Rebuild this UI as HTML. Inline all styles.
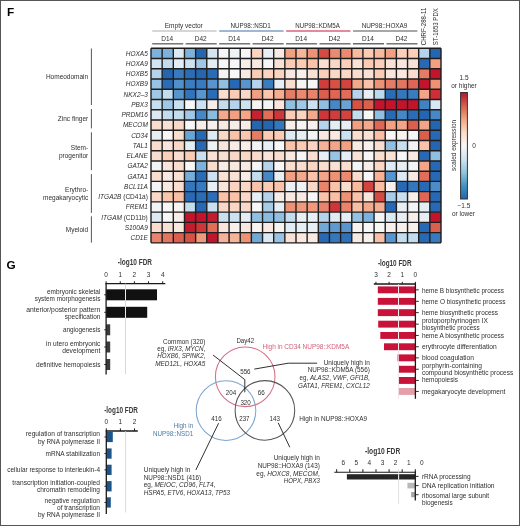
<!DOCTYPE html><html><head><meta charset="utf-8"><style>html,body{margin:0;padding:0;background:#fff;}svg{display:block;will-change:transform;}text{font-family:"Liberation Sans",sans-serif;}</style></head><body>
<svg width="520" height="526" viewBox="0 0 520 526">
<rect x="0" y="0" width="520" height="526" fill="#fff"/>
<rect x="0.5" y="0.5" width="519" height="525" fill="none" stroke="#555" stroke-width="1"/>
<text x="7.00" y="16.30" font-size="11.8" font-weight="bold" fill="#000">F</text>
<text x="6.40" y="269.30" font-size="11.8" font-weight="bold" fill="#000">G</text>
<rect x="151.00" y="48.30" width="11.20" height="10.29" fill="#7cb2dc"/>
<rect x="162.15" y="48.30" width="11.20" height="10.29" fill="#7cb2dc"/>
<rect x="173.31" y="48.30" width="11.20" height="10.29" fill="#ddeaf3"/>
<rect x="184.46" y="48.30" width="11.20" height="10.29" fill="#7cb2dc"/>
<rect x="195.62" y="48.30" width="11.20" height="10.29" fill="#2466b2"/>
<rect x="206.77" y="48.30" width="11.20" height="10.29" fill="#d3e5f1"/>
<rect x="217.92" y="48.30" width="11.20" height="10.29" fill="#f7f7f7"/>
<rect x="229.08" y="48.30" width="11.20" height="10.29" fill="#edf2f5"/>
<rect x="240.23" y="48.30" width="11.20" height="10.29" fill="#f7f7f7"/>
<rect x="251.38" y="48.30" width="11.20" height="10.29" fill="#fad4c1"/>
<rect x="262.54" y="48.30" width="11.20" height="10.29" fill="#e7eff5"/>
<rect x="273.69" y="48.30" width="11.20" height="10.29" fill="#f8eae3"/>
<rect x="284.85" y="48.30" width="11.20" height="10.29" fill="#f3a082"/>
<rect x="296.00" y="48.30" width="11.20" height="10.29" fill="#f7b69a"/>
<rect x="307.15" y="48.30" width="11.20" height="10.29" fill="#ee9276"/>
<rect x="318.31" y="48.30" width="11.20" height="10.29" fill="#d54a42"/>
<rect x="329.46" y="48.30" width="11.20" height="10.29" fill="#ec8a71"/>
<rect x="340.62" y="48.30" width="11.20" height="10.29" fill="#ec8a71"/>
<rect x="351.77" y="48.30" width="11.20" height="10.29" fill="#f8ba9f"/>
<rect x="362.92" y="48.30" width="11.20" height="10.29" fill="#fbcbb3"/>
<rect x="374.08" y="48.30" width="11.20" height="10.29" fill="#f8ba9f"/>
<rect x="385.23" y="48.30" width="11.20" height="10.29" fill="#f3a082"/>
<rect x="396.38" y="48.30" width="11.20" height="10.29" fill="#fbcfba"/>
<rect x="407.54" y="48.30" width="11.20" height="10.29" fill="#fbcfba"/>
<rect x="418.69" y="48.30" width="11.20" height="10.29" fill="#b5d4eb"/>
<rect x="429.85" y="48.30" width="11.20" height="10.29" fill="#2466b2"/>
<rect x="151.00" y="58.54" width="11.20" height="10.29" fill="#d3e5f1"/>
<rect x="162.15" y="58.54" width="11.20" height="10.29" fill="#c3ddef"/>
<rect x="173.31" y="58.54" width="11.20" height="10.29" fill="#e2edf4"/>
<rect x="184.46" y="58.54" width="11.20" height="10.29" fill="#cde2f1"/>
<rect x="195.62" y="58.54" width="11.20" height="10.29" fill="#a0c8e6"/>
<rect x="206.77" y="58.54" width="11.20" height="10.29" fill="#e2edf4"/>
<rect x="217.92" y="58.54" width="11.20" height="10.29" fill="#f7f7f7"/>
<rect x="229.08" y="58.54" width="11.20" height="10.29" fill="#f7f7f7"/>
<rect x="240.23" y="58.54" width="11.20" height="10.29" fill="#f8eee9"/>
<rect x="251.38" y="58.54" width="11.20" height="10.29" fill="#f8eae3"/>
<rect x="262.54" y="58.54" width="11.20" height="10.29" fill="#f7f7f7"/>
<rect x="273.69" y="58.54" width="11.20" height="10.29" fill="#f9e1d5"/>
<rect x="284.85" y="58.54" width="11.20" height="10.29" fill="#fbcbb3"/>
<rect x="296.00" y="58.54" width="11.20" height="10.29" fill="#fbcbb3"/>
<rect x="307.15" y="58.54" width="11.20" height="10.29" fill="#f9c2a9"/>
<rect x="318.31" y="58.54" width="11.20" height="10.29" fill="#f9ddce"/>
<rect x="329.46" y="58.54" width="11.20" height="10.29" fill="#fad8c7"/>
<rect x="340.62" y="58.54" width="11.20" height="10.29" fill="#fbcfba"/>
<rect x="351.77" y="58.54" width="11.20" height="10.29" fill="#f9e1d5"/>
<rect x="362.92" y="58.54" width="11.20" height="10.29" fill="#fbcbb3"/>
<rect x="374.08" y="58.54" width="11.20" height="10.29" fill="#fbcfba"/>
<rect x="385.23" y="58.54" width="11.20" height="10.29" fill="#f9e1d5"/>
<rect x="396.38" y="58.54" width="11.20" height="10.29" fill="#f9e5dc"/>
<rect x="407.54" y="58.54" width="11.20" height="10.29" fill="#f9e1d5"/>
<rect x="418.69" y="58.54" width="11.20" height="10.29" fill="#2769b4"/>
<rect x="429.85" y="58.54" width="11.20" height="10.29" fill="#f3a082"/>
<rect x="151.00" y="68.78" width="11.20" height="10.29" fill="#b5d4eb"/>
<rect x="162.15" y="68.78" width="11.20" height="10.29" fill="#2466b2"/>
<rect x="173.31" y="68.78" width="11.20" height="10.29" fill="#387abf"/>
<rect x="184.46" y="68.78" width="11.20" height="10.29" fill="#2a6cb6"/>
<rect x="195.62" y="68.78" width="11.20" height="10.29" fill="#2466b2"/>
<rect x="206.77" y="68.78" width="11.20" height="10.29" fill="#2a6cb6"/>
<rect x="217.92" y="68.78" width="11.20" height="10.29" fill="#f7f3f0"/>
<rect x="229.08" y="68.78" width="11.20" height="10.29" fill="#f7f7f7"/>
<rect x="240.23" y="68.78" width="11.20" height="10.29" fill="#f8eae3"/>
<rect x="251.38" y="68.78" width="11.20" height="10.29" fill="#fbcbb3"/>
<rect x="262.54" y="68.78" width="11.20" height="10.29" fill="#fad4c1"/>
<rect x="273.69" y="68.78" width="11.20" height="10.29" fill="#fad4c1"/>
<rect x="284.85" y="68.78" width="11.20" height="10.29" fill="#f8e8df"/>
<rect x="296.00" y="68.78" width="11.20" height="10.29" fill="#f8f0ed"/>
<rect x="307.15" y="68.78" width="11.20" height="10.29" fill="#f9e1d5"/>
<rect x="318.31" y="68.78" width="11.20" height="10.29" fill="#fbcfba"/>
<rect x="329.46" y="68.78" width="11.20" height="10.29" fill="#fad8c7"/>
<rect x="340.62" y="68.78" width="11.20" height="10.29" fill="#fad8c7"/>
<rect x="351.77" y="68.78" width="11.20" height="10.29" fill="#f9ddce"/>
<rect x="362.92" y="68.78" width="11.20" height="10.29" fill="#f9e1d5"/>
<rect x="374.08" y="68.78" width="11.20" height="10.29" fill="#fbcbb3"/>
<rect x="385.23" y="68.78" width="11.20" height="10.29" fill="#f9e5dc"/>
<rect x="396.38" y="68.78" width="11.20" height="10.29" fill="#f8e8df"/>
<rect x="407.54" y="68.78" width="11.20" height="10.29" fill="#f9ddce"/>
<rect x="418.69" y="68.78" width="11.20" height="10.29" fill="#e67c65"/>
<rect x="429.85" y="68.78" width="11.20" height="10.29" fill="#c2142c"/>
<rect x="151.00" y="79.02" width="11.20" height="10.29" fill="#98c3e4"/>
<rect x="162.15" y="79.02" width="11.20" height="10.29" fill="#2a6cb6"/>
<rect x="173.31" y="79.02" width="11.20" height="10.29" fill="#5290cb"/>
<rect x="184.46" y="79.02" width="11.20" height="10.29" fill="#3a7cc0"/>
<rect x="195.62" y="79.02" width="11.20" height="10.29" fill="#387abf"/>
<rect x="206.77" y="79.02" width="11.20" height="10.29" fill="#5895ce"/>
<rect x="217.92" y="79.02" width="11.20" height="10.29" fill="#91bfe2"/>
<rect x="229.08" y="79.02" width="11.20" height="10.29" fill="#2769b4"/>
<rect x="240.23" y="79.02" width="11.20" height="10.29" fill="#5895ce"/>
<rect x="251.38" y="79.02" width="11.20" height="10.29" fill="#b5d4eb"/>
<rect x="262.54" y="79.02" width="11.20" height="10.29" fill="#3a7cc0"/>
<rect x="273.69" y="79.02" width="11.20" height="10.29" fill="#e7eff5"/>
<rect x="284.85" y="79.02" width="11.20" height="10.29" fill="#f9ddce"/>
<rect x="296.00" y="79.02" width="11.20" height="10.29" fill="#f7f5f4"/>
<rect x="307.15" y="79.02" width="11.20" height="10.29" fill="#f7f7f7"/>
<rect x="318.31" y="79.02" width="11.20" height="10.29" fill="#d03d3d"/>
<rect x="329.46" y="79.02" width="11.20" height="10.29" fill="#d85145"/>
<rect x="340.62" y="79.02" width="11.20" height="10.29" fill="#d34440"/>
<rect x="351.77" y="79.02" width="11.20" height="10.29" fill="#f5a98c"/>
<rect x="362.92" y="79.02" width="11.20" height="10.29" fill="#f9c2a9"/>
<rect x="374.08" y="79.02" width="11.20" height="10.29" fill="#ee9276"/>
<rect x="385.23" y="79.02" width="11.20" height="10.29" fill="#e67c65"/>
<rect x="396.38" y="79.02" width="11.20" height="10.29" fill="#e4755f"/>
<rect x="407.54" y="79.02" width="11.20" height="10.29" fill="#df6654"/>
<rect x="418.69" y="79.02" width="11.20" height="10.29" fill="#c2142c"/>
<rect x="429.85" y="79.02" width="11.20" height="10.29" fill="#ee9276"/>
<rect x="151.00" y="89.26" width="11.20" height="10.29" fill="#a0c8e6"/>
<rect x="162.15" y="89.26" width="11.20" height="10.29" fill="#c3ddef"/>
<rect x="173.31" y="89.26" width="11.20" height="10.29" fill="#5895ce"/>
<rect x="184.46" y="89.26" width="11.20" height="10.29" fill="#3274bb"/>
<rect x="195.62" y="89.26" width="11.20" height="10.29" fill="#5895ce"/>
<rect x="206.77" y="89.26" width="11.20" height="10.29" fill="#2a6cb6"/>
<rect x="217.92" y="89.26" width="11.20" height="10.29" fill="#f9ddce"/>
<rect x="229.08" y="89.26" width="11.20" height="10.29" fill="#fbcbb3"/>
<rect x="240.23" y="89.26" width="11.20" height="10.29" fill="#fad8c7"/>
<rect x="251.38" y="89.26" width="11.20" height="10.29" fill="#f3a082"/>
<rect x="262.54" y="89.26" width="11.20" height="10.29" fill="#fac7ae"/>
<rect x="273.69" y="89.26" width="11.20" height="10.29" fill="#f5ad91"/>
<rect x="284.85" y="89.26" width="11.20" height="10.29" fill="#e67c65"/>
<rect x="296.00" y="89.26" width="11.20" height="10.29" fill="#ec8a71"/>
<rect x="307.15" y="89.26" width="11.20" height="10.29" fill="#e9836b"/>
<rect x="318.31" y="89.26" width="11.20" height="10.29" fill="#dc5f4e"/>
<rect x="329.46" y="89.26" width="11.20" height="10.29" fill="#df6654"/>
<rect x="340.62" y="89.26" width="11.20" height="10.29" fill="#e26e59"/>
<rect x="351.77" y="89.26" width="11.20" height="10.29" fill="#b5d4eb"/>
<rect x="362.92" y="89.26" width="11.20" height="10.29" fill="#e7eff5"/>
<rect x="374.08" y="89.26" width="11.20" height="10.29" fill="#bcd9ed"/>
<rect x="385.23" y="89.26" width="11.20" height="10.29" fill="#2a6cb6"/>
<rect x="396.38" y="89.26" width="11.20" height="10.29" fill="#3577bd"/>
<rect x="407.54" y="89.26" width="11.20" height="10.29" fill="#3a7cc0"/>
<rect x="418.69" y="89.26" width="11.20" height="10.29" fill="#f4a487"/>
<rect x="429.85" y="89.26" width="11.20" height="10.29" fill="#cc2f37"/>
<rect x="151.00" y="99.50" width="11.20" height="10.29" fill="#c8e0f0"/>
<rect x="162.15" y="99.50" width="11.20" height="10.29" fill="#a0c8e6"/>
<rect x="173.31" y="99.50" width="11.20" height="10.29" fill="#c8e0f0"/>
<rect x="184.46" y="99.50" width="11.20" height="10.29" fill="#f7f7f7"/>
<rect x="195.62" y="99.50" width="11.20" height="10.29" fill="#cde2f1"/>
<rect x="206.77" y="99.50" width="11.20" height="10.29" fill="#f8eee9"/>
<rect x="217.92" y="99.50" width="11.20" height="10.29" fill="#c3ddef"/>
<rect x="229.08" y="99.50" width="11.20" height="10.29" fill="#b5d4eb"/>
<rect x="240.23" y="99.50" width="11.20" height="10.29" fill="#cde2f1"/>
<rect x="251.38" y="99.50" width="11.20" height="10.29" fill="#f7f3f0"/>
<rect x="262.54" y="99.50" width="11.20" height="10.29" fill="#f2f4f6"/>
<rect x="273.69" y="99.50" width="11.20" height="10.29" fill="#f9e5dc"/>
<rect x="284.85" y="99.50" width="11.20" height="10.29" fill="#91bfe2"/>
<rect x="296.00" y="99.50" width="11.20" height="10.29" fill="#a0c8e6"/>
<rect x="307.15" y="99.50" width="11.20" height="10.29" fill="#cde2f1"/>
<rect x="318.31" y="99.50" width="11.20" height="10.29" fill="#91bfe2"/>
<rect x="329.46" y="99.50" width="11.20" height="10.29" fill="#4687c6"/>
<rect x="340.62" y="99.50" width="11.20" height="10.29" fill="#6aa4d5"/>
<rect x="351.77" y="99.50" width="11.20" height="10.29" fill="#d85145"/>
<rect x="362.92" y="99.50" width="11.20" height="10.29" fill="#dc5f4e"/>
<rect x="374.08" y="99.50" width="11.20" height="10.29" fill="#c2142c"/>
<rect x="385.23" y="99.50" width="11.20" height="10.29" fill="#c2142c"/>
<rect x="396.38" y="99.50" width="11.20" height="10.29" fill="#c2142c"/>
<rect x="407.54" y="99.50" width="11.20" height="10.29" fill="#c2142c"/>
<rect x="418.69" y="99.50" width="11.20" height="10.29" fill="#4082c4"/>
<rect x="429.85" y="99.50" width="11.20" height="10.29" fill="#d8e7f2"/>
<rect x="151.00" y="109.74" width="11.20" height="10.29" fill="#ddeaf3"/>
<rect x="162.15" y="109.74" width="11.20" height="10.29" fill="#c3ddef"/>
<rect x="173.31" y="109.74" width="11.20" height="10.29" fill="#c3ddef"/>
<rect x="184.46" y="109.74" width="11.20" height="10.29" fill="#a0c8e6"/>
<rect x="195.62" y="109.74" width="11.20" height="10.29" fill="#4687c6"/>
<rect x="206.77" y="109.74" width="11.20" height="10.29" fill="#8abbe0"/>
<rect x="217.92" y="109.74" width="11.20" height="10.29" fill="#f5a98c"/>
<rect x="229.08" y="109.74" width="11.20" height="10.29" fill="#f3a082"/>
<rect x="240.23" y="109.74" width="11.20" height="10.29" fill="#f4a487"/>
<rect x="251.38" y="109.74" width="11.20" height="10.29" fill="#c72232"/>
<rect x="262.54" y="109.74" width="11.20" height="10.29" fill="#e26e59"/>
<rect x="273.69" y="109.74" width="11.20" height="10.29" fill="#ce363a"/>
<rect x="284.85" y="109.74" width="11.20" height="10.29" fill="#fbcbb3"/>
<rect x="296.00" y="109.74" width="11.20" height="10.29" fill="#fad4c1"/>
<rect x="307.15" y="109.74" width="11.20" height="10.29" fill="#f5a98c"/>
<rect x="318.31" y="109.74" width="11.20" height="10.29" fill="#ce363a"/>
<rect x="329.46" y="109.74" width="11.20" height="10.29" fill="#d03d3d"/>
<rect x="340.62" y="109.74" width="11.20" height="10.29" fill="#d34440"/>
<rect x="351.77" y="109.74" width="11.20" height="10.29" fill="#c3ddef"/>
<rect x="362.92" y="109.74" width="11.20" height="10.29" fill="#f7f7f7"/>
<rect x="374.08" y="109.74" width="11.20" height="10.29" fill="#91bfe2"/>
<rect x="385.23" y="109.74" width="11.20" height="10.29" fill="#2769b4"/>
<rect x="396.38" y="109.74" width="11.20" height="10.29" fill="#4687c6"/>
<rect x="407.54" y="109.74" width="11.20" height="10.29" fill="#2a6cb6"/>
<rect x="418.69" y="109.74" width="11.20" height="10.29" fill="#2466b2"/>
<rect x="429.85" y="109.74" width="11.20" height="10.29" fill="#4687c6"/>
<rect x="151.00" y="119.98" width="11.20" height="10.29" fill="#f9ddce"/>
<rect x="162.15" y="119.98" width="11.20" height="10.29" fill="#f9e1d5"/>
<rect x="173.31" y="119.98" width="11.20" height="10.29" fill="#fad8c7"/>
<rect x="184.46" y="119.98" width="11.20" height="10.29" fill="#f7f7f7"/>
<rect x="195.62" y="119.98" width="11.20" height="10.29" fill="#f8eee9"/>
<rect x="206.77" y="119.98" width="11.20" height="10.29" fill="#f8f0ed"/>
<rect x="217.92" y="119.98" width="11.20" height="10.29" fill="#f8eae3"/>
<rect x="229.08" y="119.98" width="11.20" height="10.29" fill="#f8eee9"/>
<rect x="240.23" y="119.98" width="11.20" height="10.29" fill="#f8ece6"/>
<rect x="251.38" y="119.98" width="11.20" height="10.29" fill="#2466b2"/>
<rect x="262.54" y="119.98" width="11.20" height="10.29" fill="#2466b2"/>
<rect x="273.69" y="119.98" width="11.20" height="10.29" fill="#3577bd"/>
<rect x="284.85" y="119.98" width="11.20" height="10.29" fill="#f8eee9"/>
<rect x="296.00" y="119.98" width="11.20" height="10.29" fill="#f7f5f4"/>
<rect x="307.15" y="119.98" width="11.20" height="10.29" fill="#f8f0ed"/>
<rect x="318.31" y="119.98" width="11.20" height="10.29" fill="#b5d4eb"/>
<rect x="329.46" y="119.98" width="11.20" height="10.29" fill="#e2edf4"/>
<rect x="340.62" y="119.98" width="11.20" height="10.29" fill="#e7eff5"/>
<rect x="351.77" y="119.98" width="11.20" height="10.29" fill="#f3a082"/>
<rect x="362.92" y="119.98" width="11.20" height="10.29" fill="#f5a98c"/>
<rect x="374.08" y="119.98" width="11.20" height="10.29" fill="#df6654"/>
<rect x="385.23" y="119.98" width="11.20" height="10.29" fill="#f3a082"/>
<rect x="396.38" y="119.98" width="11.20" height="10.29" fill="#f4a487"/>
<rect x="407.54" y="119.98" width="11.20" height="10.29" fill="#dc5f4e"/>
<rect x="418.69" y="119.98" width="11.20" height="10.29" fill="#f4a487"/>
<rect x="429.85" y="119.98" width="11.20" height="10.29" fill="#2466b2"/>
<rect x="151.00" y="130.22" width="11.20" height="10.29" fill="#e7eff5"/>
<rect x="162.15" y="130.22" width="11.20" height="10.29" fill="#f7f7f7"/>
<rect x="173.31" y="130.22" width="11.20" height="10.29" fill="#f9ddce"/>
<rect x="184.46" y="130.22" width="11.20" height="10.29" fill="#6aa4d5"/>
<rect x="195.62" y="130.22" width="11.20" height="10.29" fill="#2769b4"/>
<rect x="206.77" y="130.22" width="11.20" height="10.29" fill="#ddeaf3"/>
<rect x="217.92" y="130.22" width="11.20" height="10.29" fill="#fad8c7"/>
<rect x="229.08" y="130.22" width="11.20" height="10.29" fill="#f9c2a9"/>
<rect x="240.23" y="130.22" width="11.20" height="10.29" fill="#fac7ae"/>
<rect x="251.38" y="130.22" width="11.20" height="10.29" fill="#e67c65"/>
<rect x="262.54" y="130.22" width="11.20" height="10.29" fill="#fbcbb3"/>
<rect x="273.69" y="130.22" width="11.20" height="10.29" fill="#fbcbb3"/>
<rect x="284.85" y="130.22" width="11.20" height="10.29" fill="#ddeaf3"/>
<rect x="296.00" y="130.22" width="11.20" height="10.29" fill="#e7eff5"/>
<rect x="307.15" y="130.22" width="11.20" height="10.29" fill="#f2f4f6"/>
<rect x="318.31" y="130.22" width="11.20" height="10.29" fill="#f8e8df"/>
<rect x="329.46" y="130.22" width="11.20" height="10.29" fill="#f8eae3"/>
<rect x="340.62" y="130.22" width="11.20" height="10.29" fill="#cde2f1"/>
<rect x="351.77" y="130.22" width="11.20" height="10.29" fill="#f9ddce"/>
<rect x="362.92" y="130.22" width="11.20" height="10.29" fill="#f9e1d5"/>
<rect x="374.08" y="130.22" width="11.20" height="10.29" fill="#f9bea4"/>
<rect x="385.23" y="130.22" width="11.20" height="10.29" fill="#f7f7f7"/>
<rect x="396.38" y="130.22" width="11.20" height="10.29" fill="#f7f3f0"/>
<rect x="407.54" y="130.22" width="11.20" height="10.29" fill="#f4f6f7"/>
<rect x="418.69" y="130.22" width="11.20" height="10.29" fill="#dc5f4e"/>
<rect x="429.85" y="130.22" width="11.20" height="10.29" fill="#2769b4"/>
<rect x="151.00" y="140.46" width="11.20" height="10.29" fill="#f9ddce"/>
<rect x="162.15" y="140.46" width="11.20" height="10.29" fill="#f9e5dc"/>
<rect x="173.31" y="140.46" width="11.20" height="10.29" fill="#fad8c7"/>
<rect x="184.46" y="140.46" width="11.20" height="10.29" fill="#e2edf4"/>
<rect x="195.62" y="140.46" width="11.20" height="10.29" fill="#2769b4"/>
<rect x="206.77" y="140.46" width="11.20" height="10.29" fill="#edf2f5"/>
<rect x="217.92" y="140.46" width="11.20" height="10.29" fill="#f9e5dc"/>
<rect x="229.08" y="140.46" width="11.20" height="10.29" fill="#f8ece6"/>
<rect x="240.23" y="140.46" width="11.20" height="10.29" fill="#f8eee9"/>
<rect x="251.38" y="140.46" width="11.20" height="10.29" fill="#f2f4f6"/>
<rect x="262.54" y="140.46" width="11.20" height="10.29" fill="#e7eff5"/>
<rect x="273.69" y="140.46" width="11.20" height="10.29" fill="#f7f7f7"/>
<rect x="284.85" y="140.46" width="11.20" height="10.29" fill="#f9c2a9"/>
<rect x="296.00" y="140.46" width="11.20" height="10.29" fill="#fbcbb3"/>
<rect x="307.15" y="140.46" width="11.20" height="10.29" fill="#fad4c1"/>
<rect x="318.31" y="140.46" width="11.20" height="10.29" fill="#f6b196"/>
<rect x="329.46" y="140.46" width="11.20" height="10.29" fill="#f4a487"/>
<rect x="340.62" y="140.46" width="11.20" height="10.29" fill="#f3a082"/>
<rect x="351.77" y="140.46" width="11.20" height="10.29" fill="#f8eae3"/>
<rect x="362.92" y="140.46" width="11.20" height="10.29" fill="#f8f0ed"/>
<rect x="374.08" y="140.46" width="11.20" height="10.29" fill="#f9ddce"/>
<rect x="385.23" y="140.46" width="11.20" height="10.29" fill="#91bfe2"/>
<rect x="396.38" y="140.46" width="11.20" height="10.29" fill="#c8e0f0"/>
<rect x="407.54" y="140.46" width="11.20" height="10.29" fill="#f2f4f6"/>
<rect x="418.69" y="140.46" width="11.20" height="10.29" fill="#f9c2a9"/>
<rect x="429.85" y="140.46" width="11.20" height="10.29" fill="#2466b2"/>
<rect x="151.00" y="150.70" width="11.20" height="10.29" fill="#f9ddce"/>
<rect x="162.15" y="150.70" width="11.20" height="10.29" fill="#fbcfba"/>
<rect x="173.31" y="150.70" width="11.20" height="10.29" fill="#f9ddce"/>
<rect x="184.46" y="150.70" width="11.20" height="10.29" fill="#fbcbb3"/>
<rect x="195.62" y="150.70" width="11.20" height="10.29" fill="#c8e0f0"/>
<rect x="206.77" y="150.70" width="11.20" height="10.29" fill="#f9e1d5"/>
<rect x="217.92" y="150.70" width="11.20" height="10.29" fill="#f9dfd2"/>
<rect x="229.08" y="150.70" width="11.20" height="10.29" fill="#fad8c7"/>
<rect x="240.23" y="150.70" width="11.20" height="10.29" fill="#fad8c7"/>
<rect x="251.38" y="150.70" width="11.20" height="10.29" fill="#fadacb"/>
<rect x="262.54" y="150.70" width="11.20" height="10.29" fill="#f9e3d8"/>
<rect x="273.69" y="150.70" width="11.20" height="10.29" fill="#f9ddce"/>
<rect x="284.85" y="150.70" width="11.20" height="10.29" fill="#f8eae3"/>
<rect x="296.00" y="150.70" width="11.20" height="10.29" fill="#f7f7f7"/>
<rect x="307.15" y="150.70" width="11.20" height="10.29" fill="#f9dfd2"/>
<rect x="318.31" y="150.70" width="11.20" height="10.29" fill="#e7eff5"/>
<rect x="329.46" y="150.70" width="11.20" height="10.29" fill="#98c3e4"/>
<rect x="340.62" y="150.70" width="11.20" height="10.29" fill="#e5eef4"/>
<rect x="351.77" y="150.70" width="11.20" height="10.29" fill="#f9e1d5"/>
<rect x="362.92" y="150.70" width="11.20" height="10.29" fill="#f7f7f7"/>
<rect x="374.08" y="150.70" width="11.20" height="10.29" fill="#f9ddce"/>
<rect x="385.23" y="150.70" width="11.20" height="10.29" fill="#f9e1d5"/>
<rect x="396.38" y="150.70" width="11.20" height="10.29" fill="#f7f7f7"/>
<rect x="407.54" y="150.70" width="11.20" height="10.29" fill="#f8eae3"/>
<rect x="418.69" y="150.70" width="11.20" height="10.29" fill="#2769b4"/>
<rect x="429.85" y="150.70" width="11.20" height="10.29" fill="#91bfe2"/>
<rect x="151.00" y="160.94" width="11.20" height="10.29" fill="#f2f4f6"/>
<rect x="162.15" y="160.94" width="11.20" height="10.29" fill="#f9e5dc"/>
<rect x="173.31" y="160.94" width="11.20" height="10.29" fill="#f9ddce"/>
<rect x="184.46" y="160.94" width="11.20" height="10.29" fill="#f7f7f7"/>
<rect x="195.62" y="160.94" width="11.20" height="10.29" fill="#7cb2dc"/>
<rect x="206.77" y="160.94" width="11.20" height="10.29" fill="#f9ddce"/>
<rect x="217.92" y="160.94" width="11.20" height="10.29" fill="#f8ece6"/>
<rect x="229.08" y="160.94" width="11.20" height="10.29" fill="#f8e8df"/>
<rect x="240.23" y="160.94" width="11.20" height="10.29" fill="#f8eae3"/>
<rect x="251.38" y="160.94" width="11.20" height="10.29" fill="#f4f6f7"/>
<rect x="262.54" y="160.94" width="11.20" height="10.29" fill="#b5d4eb"/>
<rect x="273.69" y="160.94" width="11.20" height="10.29" fill="#f7f7f7"/>
<rect x="284.85" y="160.94" width="11.20" height="10.29" fill="#f9ddce"/>
<rect x="296.00" y="160.94" width="11.20" height="10.29" fill="#f9ddce"/>
<rect x="307.15" y="160.94" width="11.20" height="10.29" fill="#fad6c4"/>
<rect x="318.31" y="160.94" width="11.20" height="10.29" fill="#f9ddce"/>
<rect x="329.46" y="160.94" width="11.20" height="10.29" fill="#f9e1d5"/>
<rect x="340.62" y="160.94" width="11.20" height="10.29" fill="#f9ddce"/>
<rect x="351.77" y="160.94" width="11.20" height="10.29" fill="#f2f4f6"/>
<rect x="362.92" y="160.94" width="11.20" height="10.29" fill="#f8eee9"/>
<rect x="374.08" y="160.94" width="11.20" height="10.29" fill="#fad6c4"/>
<rect x="385.23" y="160.94" width="11.20" height="10.29" fill="#e0ebf3"/>
<rect x="396.38" y="160.94" width="11.20" height="10.29" fill="#e7eff5"/>
<rect x="407.54" y="160.94" width="11.20" height="10.29" fill="#f2f4f6"/>
<rect x="418.69" y="160.94" width="11.20" height="10.29" fill="#f4a487"/>
<rect x="429.85" y="160.94" width="11.20" height="10.29" fill="#2769b4"/>
<rect x="151.00" y="171.18" width="11.20" height="10.29" fill="#f9ddce"/>
<rect x="162.15" y="171.18" width="11.20" height="10.29" fill="#f8eae3"/>
<rect x="173.31" y="171.18" width="11.20" height="10.29" fill="#f9e1d5"/>
<rect x="184.46" y="171.18" width="11.20" height="10.29" fill="#76adda"/>
<rect x="195.62" y="171.18" width="11.20" height="10.29" fill="#2a6cb6"/>
<rect x="206.77" y="171.18" width="11.20" height="10.29" fill="#cde2f1"/>
<rect x="217.92" y="171.18" width="11.20" height="10.29" fill="#f9e1d5"/>
<rect x="229.08" y="171.18" width="11.20" height="10.29" fill="#f9e1d5"/>
<rect x="240.23" y="171.18" width="11.20" height="10.29" fill="#f8ece6"/>
<rect x="251.38" y="171.18" width="11.20" height="10.29" fill="#c3ddef"/>
<rect x="262.54" y="171.18" width="11.20" height="10.29" fill="#4687c6"/>
<rect x="273.69" y="171.18" width="11.20" height="10.29" fill="#e7eff5"/>
<rect x="284.85" y="171.18" width="11.20" height="10.29" fill="#f3a082"/>
<rect x="296.00" y="171.18" width="11.20" height="10.29" fill="#f5a98c"/>
<rect x="307.15" y="171.18" width="11.20" height="10.29" fill="#f9c2a9"/>
<rect x="318.31" y="171.18" width="11.20" height="10.29" fill="#f4a487"/>
<rect x="329.46" y="171.18" width="11.20" height="10.29" fill="#ee9276"/>
<rect x="340.62" y="171.18" width="11.20" height="10.29" fill="#ec8a71"/>
<rect x="351.77" y="171.18" width="11.20" height="10.29" fill="#f9ddce"/>
<rect x="362.92" y="171.18" width="11.20" height="10.29" fill="#f7f7f7"/>
<rect x="374.08" y="171.18" width="11.20" height="10.29" fill="#f6b196"/>
<rect x="385.23" y="171.18" width="11.20" height="10.29" fill="#5895ce"/>
<rect x="396.38" y="171.18" width="11.20" height="10.29" fill="#ddeaf3"/>
<rect x="407.54" y="171.18" width="11.20" height="10.29" fill="#f8eae3"/>
<rect x="418.69" y="171.18" width="11.20" height="10.29" fill="#e26e59"/>
<rect x="429.85" y="171.18" width="11.20" height="10.29" fill="#2769b4"/>
<rect x="151.00" y="181.42" width="11.20" height="10.29" fill="#f2f4f6"/>
<rect x="162.15" y="181.42" width="11.20" height="10.29" fill="#f8eae3"/>
<rect x="173.31" y="181.42" width="11.20" height="10.29" fill="#f9ddce"/>
<rect x="184.46" y="181.42" width="11.20" height="10.29" fill="#3577bd"/>
<rect x="195.62" y="181.42" width="11.20" height="10.29" fill="#387abf"/>
<rect x="206.77" y="181.42" width="11.20" height="10.29" fill="#e7eff5"/>
<rect x="217.92" y="181.42" width="11.20" height="10.29" fill="#f9e5dc"/>
<rect x="229.08" y="181.42" width="11.20" height="10.29" fill="#fad4c1"/>
<rect x="240.23" y="181.42" width="11.20" height="10.29" fill="#fad8c7"/>
<rect x="251.38" y="181.42" width="11.20" height="10.29" fill="#f9c2a9"/>
<rect x="262.54" y="181.42" width="11.20" height="10.29" fill="#fbcbb3"/>
<rect x="273.69" y="181.42" width="11.20" height="10.29" fill="#f9c2a9"/>
<rect x="284.85" y="181.42" width="11.20" height="10.29" fill="#eaf0f5"/>
<rect x="296.00" y="181.42" width="11.20" height="10.29" fill="#edf2f5"/>
<rect x="307.15" y="181.42" width="11.20" height="10.29" fill="#fad8c7"/>
<rect x="318.31" y="181.42" width="11.20" height="10.29" fill="#e9836b"/>
<rect x="329.46" y="181.42" width="11.20" height="10.29" fill="#f9c2a9"/>
<rect x="340.62" y="181.42" width="11.20" height="10.29" fill="#f9ddce"/>
<rect x="351.77" y="181.42" width="11.20" height="10.29" fill="#f8ba9f"/>
<rect x="362.92" y="181.42" width="11.20" height="10.29" fill="#d34440"/>
<rect x="374.08" y="181.42" width="11.20" height="10.29" fill="#f9bea4"/>
<rect x="385.23" y="181.42" width="11.20" height="10.29" fill="#f8f0ed"/>
<rect x="396.38" y="181.42" width="11.20" height="10.29" fill="#2769b4"/>
<rect x="407.54" y="181.42" width="11.20" height="10.29" fill="#3577bd"/>
<rect x="418.69" y="181.42" width="11.20" height="10.29" fill="#2769b4"/>
<rect x="429.85" y="181.42" width="11.20" height="10.29" fill="#4c8cc9"/>
<rect x="151.00" y="191.66" width="11.20" height="10.29" fill="#fad8c7"/>
<rect x="162.15" y="191.66" width="11.20" height="10.29" fill="#fac7ae"/>
<rect x="173.31" y="191.66" width="11.20" height="10.29" fill="#f9bea4"/>
<rect x="184.46" y="191.66" width="11.20" height="10.29" fill="#2769b4"/>
<rect x="195.62" y="191.66" width="11.20" height="10.29" fill="#2a6cb6"/>
<rect x="206.77" y="191.66" width="11.20" height="10.29" fill="#2c6eb7"/>
<rect x="217.92" y="191.66" width="11.20" height="10.29" fill="#f9c2a9"/>
<rect x="229.08" y="191.66" width="11.20" height="10.29" fill="#f9c2a9"/>
<rect x="240.23" y="191.66" width="11.20" height="10.29" fill="#fad8c7"/>
<rect x="251.38" y="191.66" width="11.20" height="10.29" fill="#e5eef4"/>
<rect x="262.54" y="191.66" width="11.20" height="10.29" fill="#b5d4eb"/>
<rect x="273.69" y="191.66" width="11.20" height="10.29" fill="#f8ece6"/>
<rect x="284.85" y="191.66" width="11.20" height="10.29" fill="#f8eae3"/>
<rect x="296.00" y="191.66" width="11.20" height="10.29" fill="#f8eae3"/>
<rect x="307.15" y="191.66" width="11.20" height="10.29" fill="#f7f7f7"/>
<rect x="318.31" y="191.66" width="11.20" height="10.29" fill="#f9c2a9"/>
<rect x="329.46" y="191.66" width="11.20" height="10.29" fill="#f9bea4"/>
<rect x="340.62" y="191.66" width="11.20" height="10.29" fill="#ee9276"/>
<rect x="351.77" y="191.66" width="11.20" height="10.29" fill="#f9c2a9"/>
<rect x="362.92" y="191.66" width="11.20" height="10.29" fill="#f9e5dc"/>
<rect x="374.08" y="191.66" width="11.20" height="10.29" fill="#d54a42"/>
<rect x="385.23" y="191.66" width="11.20" height="10.29" fill="#a7cce7"/>
<rect x="396.38" y="191.66" width="11.20" height="10.29" fill="#c8e0f0"/>
<rect x="407.54" y="191.66" width="11.20" height="10.29" fill="#f8eee9"/>
<rect x="418.69" y="191.66" width="11.20" height="10.29" fill="#df6654"/>
<rect x="429.85" y="191.66" width="11.20" height="10.29" fill="#2769b4"/>
<rect x="151.00" y="201.90" width="11.20" height="10.29" fill="#f2f4f6"/>
<rect x="162.15" y="201.90" width="11.20" height="10.29" fill="#f7f7f7"/>
<rect x="173.31" y="201.90" width="11.20" height="10.29" fill="#f7f3f0"/>
<rect x="184.46" y="201.90" width="11.20" height="10.29" fill="#c3ddef"/>
<rect x="195.62" y="201.90" width="11.20" height="10.29" fill="#2769b4"/>
<rect x="206.77" y="201.90" width="11.20" height="10.29" fill="#c8e0f0"/>
<rect x="217.92" y="201.90" width="11.20" height="10.29" fill="#fad8c7"/>
<rect x="229.08" y="201.90" width="11.20" height="10.29" fill="#fad6c4"/>
<rect x="240.23" y="201.90" width="11.20" height="10.29" fill="#fad8c7"/>
<rect x="251.38" y="201.90" width="11.20" height="10.29" fill="#f7f7f7"/>
<rect x="262.54" y="201.90" width="11.20" height="10.29" fill="#a7cce7"/>
<rect x="273.69" y="201.90" width="11.20" height="10.29" fill="#e7eff5"/>
<rect x="284.85" y="201.90" width="11.20" height="10.29" fill="#ee9276"/>
<rect x="296.00" y="201.90" width="11.20" height="10.29" fill="#f0997c"/>
<rect x="307.15" y="201.90" width="11.20" height="10.29" fill="#f0997c"/>
<rect x="318.31" y="201.90" width="11.20" height="10.29" fill="#e9836b"/>
<rect x="329.46" y="201.90" width="11.20" height="10.29" fill="#ce363a"/>
<rect x="340.62" y="201.90" width="11.20" height="10.29" fill="#e9836b"/>
<rect x="351.77" y="201.90" width="11.20" height="10.29" fill="#f9bea4"/>
<rect x="362.92" y="201.90" width="11.20" height="10.29" fill="#f5a98c"/>
<rect x="374.08" y="201.90" width="11.20" height="10.29" fill="#f5ad91"/>
<rect x="385.23" y="201.90" width="11.20" height="10.29" fill="#2769b4"/>
<rect x="396.38" y="201.90" width="11.20" height="10.29" fill="#e7eff5"/>
<rect x="407.54" y="201.90" width="11.20" height="10.29" fill="#f2f4f6"/>
<rect x="418.69" y="201.90" width="11.20" height="10.29" fill="#e2edf4"/>
<rect x="429.85" y="201.90" width="11.20" height="10.29" fill="#2769b4"/>
<rect x="151.00" y="212.14" width="11.20" height="10.29" fill="#ddeaf3"/>
<rect x="162.15" y="212.14" width="11.20" height="10.29" fill="#f7f7f7"/>
<rect x="173.31" y="212.14" width="11.20" height="10.29" fill="#f8eee9"/>
<rect x="184.46" y="212.14" width="11.20" height="10.29" fill="#c2142c"/>
<rect x="195.62" y="212.14" width="11.20" height="10.29" fill="#c2142c"/>
<rect x="206.77" y="212.14" width="11.20" height="10.29" fill="#c41b2f"/>
<rect x="217.92" y="212.14" width="11.20" height="10.29" fill="#c8e0f0"/>
<rect x="229.08" y="212.14" width="11.20" height="10.29" fill="#cde2f1"/>
<rect x="240.23" y="212.14" width="11.20" height="10.29" fill="#e2edf4"/>
<rect x="251.38" y="212.14" width="11.20" height="10.29" fill="#91bfe2"/>
<rect x="262.54" y="212.14" width="11.20" height="10.29" fill="#8abbe0"/>
<rect x="273.69" y="212.14" width="11.20" height="10.29" fill="#91bfe2"/>
<rect x="284.85" y="212.14" width="11.20" height="10.29" fill="#c3ddef"/>
<rect x="296.00" y="212.14" width="11.20" height="10.29" fill="#e7eff5"/>
<rect x="307.15" y="212.14" width="11.20" height="10.29" fill="#e7eff5"/>
<rect x="318.31" y="212.14" width="11.20" height="10.29" fill="#b5d4eb"/>
<rect x="329.46" y="212.14" width="11.20" height="10.29" fill="#e0ebf3"/>
<rect x="340.62" y="212.14" width="11.20" height="10.29" fill="#e5eef4"/>
<rect x="351.77" y="212.14" width="11.20" height="10.29" fill="#95c1e3"/>
<rect x="362.92" y="212.14" width="11.20" height="10.29" fill="#7cb2dc"/>
<rect x="374.08" y="212.14" width="11.20" height="10.29" fill="#f2f4f6"/>
<rect x="385.23" y="212.14" width="11.20" height="10.29" fill="#ddeaf3"/>
<rect x="396.38" y="212.14" width="11.20" height="10.29" fill="#e7eff5"/>
<rect x="407.54" y="212.14" width="11.20" height="10.29" fill="#f8eee9"/>
<rect x="418.69" y="212.14" width="11.20" height="10.29" fill="#e7eff5"/>
<rect x="429.85" y="212.14" width="11.20" height="10.29" fill="#c2142c"/>
<rect x="151.00" y="222.38" width="11.20" height="10.29" fill="#f9ddce"/>
<rect x="162.15" y="222.38" width="11.20" height="10.29" fill="#f9e1d5"/>
<rect x="173.31" y="222.38" width="11.20" height="10.29" fill="#f8e8df"/>
<rect x="184.46" y="222.38" width="11.20" height="10.29" fill="#c41b2f"/>
<rect x="195.62" y="222.38" width="11.20" height="10.29" fill="#ce363a"/>
<rect x="206.77" y="222.38" width="11.20" height="10.29" fill="#e26e59"/>
<rect x="217.92" y="222.38" width="11.20" height="10.29" fill="#f9e5dc"/>
<rect x="229.08" y="222.38" width="11.20" height="10.29" fill="#f8f0ed"/>
<rect x="240.23" y="222.38" width="11.20" height="10.29" fill="#f8e8df"/>
<rect x="251.38" y="222.38" width="11.20" height="10.29" fill="#f7f3f0"/>
<rect x="262.54" y="222.38" width="11.20" height="10.29" fill="#f8eae3"/>
<rect x="273.69" y="222.38" width="11.20" height="10.29" fill="#f7f3f0"/>
<rect x="284.85" y="222.38" width="11.20" height="10.29" fill="#e2edf4"/>
<rect x="296.00" y="222.38" width="11.20" height="10.29" fill="#e7eff5"/>
<rect x="307.15" y="222.38" width="11.20" height="10.29" fill="#e7eff5"/>
<rect x="318.31" y="222.38" width="11.20" height="10.29" fill="#70a8d7"/>
<rect x="329.46" y="222.38" width="11.20" height="10.29" fill="#5e9ad0"/>
<rect x="340.62" y="222.38" width="11.20" height="10.29" fill="#5895ce"/>
<rect x="351.77" y="222.38" width="11.20" height="10.29" fill="#f7f3f0"/>
<rect x="362.92" y="222.38" width="11.20" height="10.29" fill="#f7f7f7"/>
<rect x="374.08" y="222.38" width="11.20" height="10.29" fill="#f7f7f7"/>
<rect x="385.23" y="222.38" width="11.20" height="10.29" fill="#f8f0ed"/>
<rect x="396.38" y="222.38" width="11.20" height="10.29" fill="#f8f0ed"/>
<rect x="407.54" y="222.38" width="11.20" height="10.29" fill="#f8f0ed"/>
<rect x="418.69" y="222.38" width="11.20" height="10.29" fill="#2769b4"/>
<rect x="429.85" y="222.38" width="11.20" height="10.29" fill="#dc5f4e"/>
<rect x="151.00" y="232.62" width="11.20" height="10.29" fill="#e9836b"/>
<rect x="162.15" y="232.62" width="11.20" height="10.29" fill="#e4755f"/>
<rect x="173.31" y="232.62" width="11.20" height="10.29" fill="#dc5f4e"/>
<rect x="184.46" y="232.62" width="11.20" height="10.29" fill="#d85145"/>
<rect x="195.62" y="232.62" width="11.20" height="10.29" fill="#f0997c"/>
<rect x="206.77" y="232.62" width="11.20" height="10.29" fill="#c2142c"/>
<rect x="217.92" y="232.62" width="11.20" height="10.29" fill="#f6b196"/>
<rect x="229.08" y="232.62" width="11.20" height="10.29" fill="#f7b398"/>
<rect x="240.23" y="232.62" width="11.20" height="10.29" fill="#ee9276"/>
<rect x="251.38" y="232.62" width="11.20" height="10.29" fill="#70a8d7"/>
<rect x="262.54" y="232.62" width="11.20" height="10.29" fill="#dae9f3"/>
<rect x="273.69" y="232.62" width="11.20" height="10.29" fill="#98c3e4"/>
<rect x="284.85" y="232.62" width="11.20" height="10.29" fill="#f9e1d5"/>
<rect x="296.00" y="232.62" width="11.20" height="10.29" fill="#f8e8df"/>
<rect x="307.15" y="232.62" width="11.20" height="10.29" fill="#f8eae3"/>
<rect x="318.31" y="232.62" width="11.20" height="10.29" fill="#2769b4"/>
<rect x="329.46" y="232.62" width="11.20" height="10.29" fill="#3577bd"/>
<rect x="340.62" y="232.62" width="11.20" height="10.29" fill="#2f71b9"/>
<rect x="351.77" y="232.62" width="11.20" height="10.29" fill="#f8eae3"/>
<rect x="362.92" y="232.62" width="11.20" height="10.29" fill="#f8f0ed"/>
<rect x="374.08" y="232.62" width="11.20" height="10.29" fill="#f9bea4"/>
<rect x="385.23" y="232.62" width="11.20" height="10.29" fill="#5895ce"/>
<rect x="396.38" y="232.62" width="11.20" height="10.29" fill="#c3ddef"/>
<rect x="407.54" y="232.62" width="11.20" height="10.29" fill="#c3ddef"/>
<rect x="418.69" y="232.62" width="11.20" height="10.29" fill="#2769b4"/>
<rect x="429.85" y="232.62" width="11.20" height="10.29" fill="#387abf"/>
<path d="M151.00 48.30V242.86M162.15 48.30V242.86M173.31 48.30V242.86M184.46 48.30V242.86M195.62 48.30V242.86M206.77 48.30V242.86M217.92 48.30V242.86M229.08 48.30V242.86M240.23 48.30V242.86M251.38 48.30V242.86M262.54 48.30V242.86M273.69 48.30V242.86M284.85 48.30V242.86M296.00 48.30V242.86M307.15 48.30V242.86M318.31 48.30V242.86M329.46 48.30V242.86M340.62 48.30V242.86M351.77 48.30V242.86M362.92 48.30V242.86M374.08 48.30V242.86M385.23 48.30V242.86M396.38 48.30V242.86M407.54 48.30V242.86M418.69 48.30V242.86M429.85 48.30V242.86M441.00 48.30V242.86M151.00 48.30H441.00M151.00 58.54H441.00M151.00 68.78H441.00M151.00 79.02H441.00M151.00 89.26H441.00M151.00 99.50H441.00M151.00 109.74H441.00M151.00 119.98H441.00M151.00 130.22H441.00M151.00 140.46H441.00M151.00 150.70H441.00M151.00 160.94H441.00M151.00 171.18H441.00M151.00 181.42H441.00M151.00 191.66H441.00M151.00 201.90H441.00M151.00 212.14H441.00M151.00 222.38H441.00M151.00 232.62H441.00M151.00 242.86H441.00" stroke="#1e1e1e" stroke-width="1.4" fill="none"/>
<path d="M152.30 31.00H216.62" stroke="#c8c8c8" stroke-width="1.4"/>
<text x="183.76" y="28.10" font-size="6.5" text-anchor="middle" textLength="38.00" lengthAdjust="spacingAndGlyphs" fill="#2e2e2e">Empty vector</text>
<path d="M152.20 43.80H183.26" stroke="#6a6a6a" stroke-width="1.4"/>
<text x="167.23" y="40.80" font-size="6.5" text-anchor="middle" textLength="11.90" lengthAdjust="spacingAndGlyphs" fill="#2e2e2e">D14</text>
<path d="M185.66 43.80H216.72" stroke="#6a6a6a" stroke-width="1.4"/>
<text x="200.69" y="40.80" font-size="6.5" text-anchor="middle" textLength="11.90" lengthAdjust="spacingAndGlyphs" fill="#2e2e2e">D42</text>
<path d="M219.22 31.00H283.55" stroke="#7e9fc6" stroke-width="1.4"/>
<text x="250.68" y="28.10" font-size="6.5" text-anchor="middle" textLength="40.30" lengthAdjust="spacingAndGlyphs" fill="#2e2e2e">NUP98::NSD1</text>
<path d="M219.12 43.80H250.18" stroke="#6a6a6a" stroke-width="1.4"/>
<text x="234.15" y="40.80" font-size="6.5" text-anchor="middle" textLength="11.90" lengthAdjust="spacingAndGlyphs" fill="#2e2e2e">D14</text>
<path d="M252.58 43.80H283.65" stroke="#6a6a6a" stroke-width="1.4"/>
<text x="267.62" y="40.80" font-size="6.5" text-anchor="middle" textLength="11.90" lengthAdjust="spacingAndGlyphs" fill="#2e2e2e">D42</text>
<path d="M286.15 31.00H350.47" stroke="#d9657f" stroke-width="1.4"/>
<text x="317.61" y="28.10" font-size="6.5" text-anchor="middle" textLength="44.50" lengthAdjust="spacingAndGlyphs" fill="#2e2e2e">NUP98::KDM5A</text>
<path d="M286.05 43.80H317.11" stroke="#6a6a6a" stroke-width="1.4"/>
<text x="301.08" y="40.80" font-size="6.5" text-anchor="middle" textLength="11.90" lengthAdjust="spacingAndGlyphs" fill="#2e2e2e">D14</text>
<path d="M319.51 43.80H350.57" stroke="#6a6a6a" stroke-width="1.4"/>
<text x="334.54" y="40.80" font-size="6.5" text-anchor="middle" textLength="11.90" lengthAdjust="spacingAndGlyphs" fill="#2e2e2e">D42</text>
<path d="M353.07 31.00H417.39" stroke="#8a8a8a" stroke-width="1.4"/>
<text x="384.53" y="28.10" font-size="6.5" text-anchor="middle" textLength="45.80" lengthAdjust="spacingAndGlyphs" fill="#2e2e2e">NUP98::HOXA9</text>
<path d="M352.97 43.80H384.03" stroke="#6a6a6a" stroke-width="1.4"/>
<text x="368.00" y="40.80" font-size="6.5" text-anchor="middle" textLength="11.90" lengthAdjust="spacingAndGlyphs" fill="#2e2e2e">D14</text>
<path d="M386.43 43.80H417.49" stroke="#6a6a6a" stroke-width="1.4"/>
<text x="401.46" y="40.80" font-size="6.5" text-anchor="middle" textLength="11.90" lengthAdjust="spacingAndGlyphs" fill="#2e2e2e">D42</text>
<text transform="translate(426.47,45.2) rotate(-90)" font-size="6.5" fill="#2e2e2e" textLength="37.5" lengthAdjust="spacingAndGlyphs">CHRF-288-11</text>
<text transform="translate(437.62,45.2) rotate(-90)" font-size="6.5" fill="#2e2e2e" textLength="37.0" lengthAdjust="spacingAndGlyphs">ST-1653 PDX</text>
<text x="147.80" y="55.72" font-size="6.5" text-anchor="end" font-style="italic" fill="#2e2e2e">HOXA5</text>
<text x="147.80" y="65.96" font-size="6.5" text-anchor="end" font-style="italic" fill="#2e2e2e">HOXA9</text>
<text x="147.80" y="76.20" font-size="6.5" text-anchor="end" font-style="italic" fill="#2e2e2e">HOXB5</text>
<text x="147.80" y="86.44" font-size="6.5" text-anchor="end" font-style="italic" fill="#2e2e2e">HOXB9</text>
<text x="147.80" y="96.68" font-size="6.5" text-anchor="end" font-style="italic" fill="#2e2e2e">NKX2&#8211;3</text>
<text x="147.80" y="106.92" font-size="6.5" text-anchor="end" font-style="italic" fill="#2e2e2e">PBX3</text>
<text x="147.80" y="117.16" font-size="6.5" text-anchor="end" font-style="italic" fill="#2e2e2e">PRDM16</text>
<text x="147.80" y="127.40" font-size="6.5" text-anchor="end" font-style="italic" fill="#2e2e2e">MECOM</text>
<text x="147.80" y="137.64" font-size="6.5" text-anchor="end" font-style="italic" fill="#2e2e2e">CD34</text>
<text x="147.80" y="147.88" font-size="6.5" text-anchor="end" font-style="italic" fill="#2e2e2e">TAL1</text>
<text x="147.80" y="158.12" font-size="6.5" text-anchor="end" font-style="italic" fill="#2e2e2e">ELANE</text>
<text x="147.80" y="168.36" font-size="6.5" text-anchor="end" font-style="italic" fill="#2e2e2e">GATA2</text>
<text x="147.80" y="178.60" font-size="6.5" text-anchor="end" font-style="italic" fill="#2e2e2e">GATA1</text>
<text x="147.80" y="188.84" font-size="6.5" text-anchor="end" font-style="italic" fill="#2e2e2e">BCL11A</text>
<text x="147.80" y="199.08" font-size="6.5" text-anchor="end" font-style="italic" fill="#2e2e2e">ITGA2B <tspan font-style="normal">(CD41a)</tspan></text>
<text x="147.80" y="209.32" font-size="6.5" text-anchor="end" font-style="italic" fill="#2e2e2e">FREM1</text>
<text x="147.80" y="219.56" font-size="6.5" text-anchor="end" font-style="italic" fill="#2e2e2e">ITGAM <tspan font-style="normal">(CD11b)</tspan></text>
<text x="147.80" y="229.80" font-size="6.5" text-anchor="end" font-style="italic" fill="#2e2e2e">S100A9</text>
<text x="147.80" y="240.04" font-size="6.5" text-anchor="end" font-style="italic" fill="#2e2e2e">CD1E</text>
<path d="M91.4 48.5V105.0" stroke="#555" stroke-width="1"/>
<path d="M91.4 109.0V128.4" stroke="#555" stroke-width="1"/>
<path d="M91.4 132.3V170.2" stroke="#555" stroke-width="1"/>
<path d="M91.4 174.1V212.9" stroke="#555" stroke-width="1"/>
<path d="M91.4 216.3V242.6" stroke="#555" stroke-width="1"/>
<text x="88.20" y="79.30" font-size="6.5" text-anchor="end" fill="#2e2e2e">Homeodomain</text>
<text x="88.20" y="121.20" font-size="6.5" text-anchor="end" fill="#2e2e2e">Zinc finger</text>
<text x="88.20" y="150.10" font-size="6.5" text-anchor="end" fill="#2e2e2e">Stem-</text>
<text x="88.20" y="157.70" font-size="6.5" text-anchor="end" fill="#2e2e2e">progenitor</text>
<text x="88.20" y="192.30" font-size="6.5" text-anchor="end" fill="#2e2e2e">Erythro-</text>
<text x="88.20" y="199.90" font-size="6.5" text-anchor="end" fill="#2e2e2e">megakaryocytic</text>
<text x="88.20" y="231.60" font-size="6.5" text-anchor="end" fill="#2e2e2e">Myeloid</text>
<defs><linearGradient id="cb" x1="0" y1="0" x2="0" y2="1"><stop offset="0" stop-color="#b2182b"/><stop offset="0.125" stop-color="#d6604d"/><stop offset="0.25" stop-color="#f4a582"/><stop offset="0.375" stop-color="#fddbc7"/><stop offset="0.5" stop-color="#f7f7f7"/><stop offset="0.625" stop-color="#d1e5f0"/><stop offset="0.75" stop-color="#92c5de"/><stop offset="0.875" stop-color="#4393c3"/><stop offset="1" stop-color="#2166ac"/></linearGradient></defs>
<rect x="460.6" y="92.5" width="6.8" height="106.5" fill="url(#cb)" stroke="#333" stroke-width="1"/>
<text x="464.00" y="80.30" font-size="6.5" text-anchor="middle" fill="#2e2e2e">1.5</text>
<text x="464.00" y="88.30" font-size="6.5" text-anchor="middle" textLength="25.50" lengthAdjust="spacingAndGlyphs" fill="#2e2e2e">or higher</text>
<text x="472.30" y="148.00" font-size="6.5" fill="#2e2e2e">0</text>
<text x="464.00" y="207.60" font-size="6.5" text-anchor="middle" fill="#2e2e2e">&#8722;1.5</text>
<text x="463.50" y="215.60" font-size="6.5" text-anchor="middle" textLength="23.00" lengthAdjust="spacingAndGlyphs" fill="#2e2e2e">or lower</text>
<text transform="translate(455.6,171) rotate(-90)" font-size="6.5" fill="#2e2e2e" textLength="51" lengthAdjust="spacingAndGlyphs">scaled expression</text>
<text x="134.90" y="265.40" font-size="8.3" text-anchor="middle" textLength="34.20" lengthAdjust="spacingAndGlyphs" font-weight="bold" fill="#3a3a3a">-log10 FDR</text>
<text x="106.10" y="276.80" font-size="6.5" text-anchor="middle" fill="#2e2e2e">0</text>
<path d="M106.10 281.30L106.10 283.60" stroke="#1a1a1a" stroke-width="1.0" fill="none"/>
<text x="120.25" y="276.80" font-size="6.5" text-anchor="middle" fill="#2e2e2e">1</text>
<path d="M120.25 281.30L120.25 283.60" stroke="#1a1a1a" stroke-width="1.0" fill="none"/>
<text x="134.40" y="276.80" font-size="6.5" text-anchor="middle" fill="#2e2e2e">2</text>
<path d="M134.40 281.30L134.40 283.60" stroke="#1a1a1a" stroke-width="1.0" fill="none"/>
<text x="148.55" y="276.80" font-size="6.5" text-anchor="middle" fill="#2e2e2e">3</text>
<path d="M148.55 281.30L148.55 283.60" stroke="#1a1a1a" stroke-width="1.0" fill="none"/>
<text x="162.70" y="276.80" font-size="6.5" text-anchor="middle" fill="#2e2e2e">4</text>
<path d="M162.70 281.30L162.70 283.60" stroke="#1a1a1a" stroke-width="1.0" fill="none"/>
<path d="M105.60 283.60L165.30 283.60" stroke="#1a1a1a" stroke-width="1.3" fill="none"/>
<rect x="106.10" y="289.30" width="50.90" height="11.00" fill="#111"/>
<path d="M104.20 294.80L106.10 294.80" stroke="#1a1a1a" stroke-width="0.9" fill="none"/>
<rect x="106.10" y="306.80" width="41.10" height="11.00" fill="#111"/>
<path d="M104.20 312.30L106.10 312.30" stroke="#1a1a1a" stroke-width="0.9" fill="none"/>
<rect x="106.10" y="324.30" width="4.10" height="11.00" fill="#3c3c3c"/>
<path d="M104.20 329.80L106.10 329.80" stroke="#1a1a1a" stroke-width="0.9" fill="none"/>
<rect x="106.10" y="341.50" width="4.10" height="11.00" fill="#3c3c3c"/>
<path d="M104.20 347.00L106.10 347.00" stroke="#1a1a1a" stroke-width="0.9" fill="none"/>
<rect x="106.10" y="359.00" width="4.10" height="11.00" fill="#3c3c3c"/>
<path d="M104.20 364.50L106.10 364.50" stroke="#1a1a1a" stroke-width="0.9" fill="none"/>
<path d="M125.50 283.60L125.50 374.20" stroke="#cfcfcf" stroke-width="0.8" fill="none"/>
<path d="M125.50 289.30L125.50 300.30" stroke="#f4f4f4" stroke-width="0.9" fill="none"/>
<path d="M125.50 306.80L125.50 317.80" stroke="#f4f4f4" stroke-width="0.9" fill="none"/>
<path d="M106.10 283.00L106.10 374.40" stroke="#1a1a1a" stroke-width="1.3" fill="none"/>
<text x="100.40" y="293.60" font-size="6.9" text-anchor="end" textLength="53.40" lengthAdjust="spacingAndGlyphs" fill="#2e2e2e">embryonic skeletal</text>
<text x="100.40" y="301.10" font-size="6.9" text-anchor="end" textLength="65.70" lengthAdjust="spacingAndGlyphs" fill="#2e2e2e">system morphogenesis</text>
<text x="100.40" y="311.50" font-size="6.9" text-anchor="end" textLength="74.10" lengthAdjust="spacingAndGlyphs" fill="#2e2e2e">anterior/posterior pattern</text>
<text x="100.40" y="318.50" font-size="6.9" text-anchor="end" textLength="35.70" lengthAdjust="spacingAndGlyphs" fill="#2e2e2e">specification</text>
<text x="100.40" y="332.00" font-size="6.9" text-anchor="end" textLength="37.50" lengthAdjust="spacingAndGlyphs" fill="#2e2e2e">angiogenesis</text>
<text x="100.40" y="346.30" font-size="6.9" text-anchor="end" textLength="54.30" lengthAdjust="spacingAndGlyphs" fill="#2e2e2e">in utero embryonic</text>
<text x="100.40" y="353.30" font-size="6.9" text-anchor="end" textLength="38.20" lengthAdjust="spacingAndGlyphs" fill="#2e2e2e">development</text>
<text x="100.40" y="366.90" font-size="6.9" text-anchor="end" textLength="64.40" lengthAdjust="spacingAndGlyphs" fill="#2e2e2e">definitive hemopoiesis</text>
<text x="394.70" y="265.50" font-size="8.3" text-anchor="middle" textLength="33.60" lengthAdjust="spacingAndGlyphs" font-weight="bold" fill="#3a3a3a">-log10 FDR</text>
<text x="415.40" y="276.70" font-size="6.5" text-anchor="middle" fill="#2e2e2e">0</text>
<path d="M415.40 281.80L415.40 284.00" stroke="#1a1a1a" stroke-width="1.0" fill="none"/>
<text x="402.25" y="276.70" font-size="6.5" text-anchor="middle" fill="#2e2e2e">1</text>
<path d="M402.25 281.80L402.25 284.00" stroke="#1a1a1a" stroke-width="1.0" fill="none"/>
<text x="389.10" y="276.70" font-size="6.5" text-anchor="middle" fill="#2e2e2e">2</text>
<path d="M389.10 281.80L389.10 284.00" stroke="#1a1a1a" stroke-width="1.0" fill="none"/>
<text x="375.95" y="276.70" font-size="6.5" text-anchor="middle" fill="#2e2e2e">3</text>
<path d="M375.95 281.80L375.95 284.00" stroke="#1a1a1a" stroke-width="1.0" fill="none"/>
<path d="M373.80 284.00L415.90 284.00" stroke="#1a1a1a" stroke-width="1.3" fill="none"/>
<rect x="377.80" y="286.40" width="37.60" height="6.90" fill="#c9123a"/>
<path d="M415.40 289.85L418.80 289.85" stroke="#1a1a1a" stroke-width="0.9" fill="none"/>
<rect x="377.80" y="297.90" width="37.60" height="6.90" fill="#c9123a"/>
<path d="M415.40 301.35L418.80 301.35" stroke="#1a1a1a" stroke-width="0.9" fill="none"/>
<rect x="377.80" y="309.20" width="37.60" height="6.90" fill="#c9123a"/>
<path d="M415.40 312.65L418.80 312.65" stroke="#1a1a1a" stroke-width="0.9" fill="none"/>
<rect x="378.20" y="320.70" width="37.20" height="6.90" fill="#c9123a"/>
<path d="M415.40 324.15L418.80 324.15" stroke="#1a1a1a" stroke-width="0.9" fill="none"/>
<rect x="380.30" y="332.00" width="35.10" height="6.90" fill="#c9123a"/>
<path d="M415.40 335.45L418.80 335.45" stroke="#1a1a1a" stroke-width="0.9" fill="none"/>
<rect x="384.00" y="343.30" width="31.40" height="6.90" fill="#c9123a"/>
<path d="M415.40 346.75L418.80 346.75" stroke="#1a1a1a" stroke-width="0.9" fill="none"/>
<rect x="397.60" y="354.40" width="17.80" height="6.90" fill="#c9123a"/>
<path d="M415.40 357.85L418.80 357.85" stroke="#1a1a1a" stroke-width="0.9" fill="none"/>
<rect x="399.00" y="365.80" width="16.40" height="6.90" fill="#c9123a"/>
<path d="M415.40 369.25L418.80 369.25" stroke="#1a1a1a" stroke-width="0.9" fill="none"/>
<rect x="399.00" y="377.00" width="16.40" height="6.90" fill="#c9123a"/>
<path d="M415.40 380.45L418.80 380.45" stroke="#1a1a1a" stroke-width="0.9" fill="none"/>
<rect x="398.60" y="388.00" width="16.80" height="6.90" fill="#e3a0ab"/>
<path d="M415.40 391.45L418.80 391.45" stroke="#1a1a1a" stroke-width="0.9" fill="none"/>
<path d="M398.50 284.00L398.50 398.60" stroke="#f2dde1" stroke-width="0.8" fill="none"/>
<path d="M398.50 286.40L398.50 293.30" stroke="#fbeef0" stroke-width="0.9" fill="none"/>
<path d="M398.50 297.90L398.50 304.80" stroke="#fbeef0" stroke-width="0.9" fill="none"/>
<path d="M398.50 309.20L398.50 316.10" stroke="#fbeef0" stroke-width="0.9" fill="none"/>
<path d="M398.50 320.70L398.50 327.60" stroke="#fbeef0" stroke-width="0.9" fill="none"/>
<path d="M398.50 332.00L398.50 338.90" stroke="#fbeef0" stroke-width="0.9" fill="none"/>
<path d="M398.50 343.30L398.50 350.20" stroke="#fbeef0" stroke-width="0.9" fill="none"/>
<path d="M415.40 283.40L415.40 398.80" stroke="#1a1a1a" stroke-width="1.3" fill="none"/>
<text x="421.90" y="292.60" font-size="6.9" textLength="82.10" lengthAdjust="spacingAndGlyphs" fill="#2e2e2e">heme B biosynthetic process</text>
<text x="421.90" y="304.00" font-size="6.9" textLength="83.50" lengthAdjust="spacingAndGlyphs" fill="#2e2e2e">heme O biosynthetic process</text>
<text x="421.90" y="314.90" font-size="6.9" textLength="76.10" lengthAdjust="spacingAndGlyphs" fill="#2e2e2e">heme biosynthetic process</text>
<text x="421.90" y="322.70" font-size="6.9" textLength="66.10" lengthAdjust="spacingAndGlyphs" fill="#2e2e2e">protoporphyrinogen IX</text>
<text x="421.90" y="330.30" font-size="6.9" textLength="57.70" lengthAdjust="spacingAndGlyphs" fill="#2e2e2e">biosynthetic process</text>
<text x="421.90" y="337.60" font-size="6.9" textLength="82.10" lengthAdjust="spacingAndGlyphs" fill="#2e2e2e">heme A biosynthetic process</text>
<text x="421.90" y="349.20" font-size="6.9" textLength="74.90" lengthAdjust="spacingAndGlyphs" fill="#2e2e2e">erythrocyte differentiation</text>
<text x="421.90" y="359.90" font-size="6.9" textLength="52.10" lengthAdjust="spacingAndGlyphs" fill="#2e2e2e">blood coagulation</text>
<text x="421.90" y="367.90" font-size="6.9" textLength="60.10" lengthAdjust="spacingAndGlyphs" fill="#2e2e2e">porphyrin-containing</text>
<text x="421.90" y="375.20" font-size="6.9" textLength="91.30" lengthAdjust="spacingAndGlyphs" fill="#2e2e2e">compound biosynthetic process</text>
<text x="421.90" y="382.30" font-size="6.9" textLength="36.10" lengthAdjust="spacingAndGlyphs" fill="#2e2e2e">hemopoiesis</text>
<text x="421.90" y="394.20" font-size="6.9" textLength="83.50" lengthAdjust="spacingAndGlyphs" fill="#2e2e2e">megakaryocyte development</text>
<text x="121.05" y="412.50" font-size="8.3" text-anchor="middle" textLength="33.70" lengthAdjust="spacingAndGlyphs" font-weight="bold" fill="#3a3a3a">-log10 FDR</text>
<text x="106.30" y="423.90" font-size="6.5" text-anchor="middle" fill="#2e2e2e">0</text>
<path d="M106.30 428.40L106.30 431.00" stroke="#1a1a1a" stroke-width="1.0" fill="none"/>
<text x="120.40" y="423.90" font-size="6.5" text-anchor="middle" fill="#2e2e2e">1</text>
<path d="M120.40 428.40L120.40 431.00" stroke="#1a1a1a" stroke-width="1.0" fill="none"/>
<text x="134.50" y="423.90" font-size="6.5" text-anchor="middle" fill="#2e2e2e">2</text>
<path d="M134.50 428.40L134.50 431.00" stroke="#1a1a1a" stroke-width="1.0" fill="none"/>
<path d="M105.80 431.00L137.80 431.00" stroke="#1a1a1a" stroke-width="1.3" fill="none"/>
<rect x="106.30" y="431.80" width="6.50" height="10.30" fill="#1d558b"/>
<path d="M104.40 436.95L106.30 436.95" stroke="#1a1a1a" stroke-width="0.9" fill="none"/>
<rect x="106.30" y="448.40" width="5.30" height="10.30" fill="#1d558b"/>
<path d="M104.40 453.55L106.30 453.55" stroke="#1a1a1a" stroke-width="0.9" fill="none"/>
<rect x="106.30" y="464.70" width="5.30" height="10.30" fill="#1d558b"/>
<path d="M104.40 469.85L106.30 469.85" stroke="#1a1a1a" stroke-width="0.9" fill="none"/>
<rect x="106.30" y="481.10" width="5.30" height="10.30" fill="#1d558b"/>
<path d="M104.40 486.25L106.30 486.25" stroke="#1a1a1a" stroke-width="0.9" fill="none"/>
<rect x="106.30" y="497.30" width="4.50" height="10.30" fill="#1d558b"/>
<path d="M104.40 502.45L106.30 502.45" stroke="#1a1a1a" stroke-width="0.9" fill="none"/>
<path d="M125.60 431.00L125.60 512.50" stroke="#d0d0d0" stroke-width="0.8" fill="none"/>
<path d="M106.30 430.40L106.30 514.00" stroke="#1a1a1a" stroke-width="1.3" fill="none"/>
<text x="100.00" y="436.30" font-size="6.9" text-anchor="end" textLength="74.20" lengthAdjust="spacingAndGlyphs" fill="#2e2e2e">regulation of transcription</text>
<text x="100.00" y="443.60" font-size="6.9" text-anchor="end" textLength="62.10" lengthAdjust="spacingAndGlyphs" fill="#2e2e2e">by RNA polymerase II</text>
<text x="100.00" y="456.10" font-size="6.9" text-anchor="end" textLength="54.40" lengthAdjust="spacingAndGlyphs" fill="#2e2e2e">mRNA stabilization</text>
<text x="100.00" y="471.60" font-size="6.9" text-anchor="end" textLength="92.80" lengthAdjust="spacingAndGlyphs" fill="#2e2e2e">cellular response to interleukin-4</text>
<text x="100.00" y="484.60" font-size="6.9" text-anchor="end" textLength="87.70" lengthAdjust="spacingAndGlyphs" fill="#2e2e2e">transcription initiation-coupled</text>
<text x="100.00" y="492.30" font-size="6.9" text-anchor="end" textLength="63.10" lengthAdjust="spacingAndGlyphs" fill="#2e2e2e">chromatin remodeling</text>
<text x="100.00" y="502.90" font-size="6.9" text-anchor="end" textLength="55.40" lengthAdjust="spacingAndGlyphs" fill="#2e2e2e">negative regulation</text>
<text x="100.00" y="510.30" font-size="6.9" text-anchor="end" textLength="43.00" lengthAdjust="spacingAndGlyphs" fill="#2e2e2e">of transcription</text>
<text x="100.00" y="517.30" font-size="6.9" text-anchor="end" textLength="62.10" lengthAdjust="spacingAndGlyphs" fill="#2e2e2e">by RNA polymerase II</text>
<text x="382.60" y="453.70" font-size="8.3" text-anchor="middle" textLength="35.20" lengthAdjust="spacingAndGlyphs" font-weight="bold" fill="#3a3a3a">-log10 FDR</text>
<text x="421.80" y="465.00" font-size="6.5" text-anchor="middle" fill="#2e2e2e">0</text>
<path d="M415.30 469.20L415.30 472.30" stroke="#1a1a1a" stroke-width="1.0" fill="none"/>
<text x="408.70" y="465.00" font-size="6.5" text-anchor="middle" fill="#2e2e2e">1</text>
<path d="M402.20 469.20L402.20 472.30" stroke="#1a1a1a" stroke-width="1.0" fill="none"/>
<text x="395.60" y="465.00" font-size="6.5" text-anchor="middle" fill="#2e2e2e">2</text>
<path d="M389.10 469.20L389.10 472.30" stroke="#1a1a1a" stroke-width="1.0" fill="none"/>
<text x="382.50" y="465.00" font-size="6.5" text-anchor="middle" fill="#2e2e2e">3</text>
<path d="M376.00 469.20L376.00 472.30" stroke="#1a1a1a" stroke-width="1.0" fill="none"/>
<text x="369.40" y="465.00" font-size="6.5" text-anchor="middle" fill="#2e2e2e">4</text>
<path d="M362.90 469.20L362.90 472.30" stroke="#1a1a1a" stroke-width="1.0" fill="none"/>
<text x="356.30" y="465.00" font-size="6.5" text-anchor="middle" fill="#2e2e2e">5</text>
<path d="M349.80 469.20L349.80 472.30" stroke="#1a1a1a" stroke-width="1.0" fill="none"/>
<text x="343.20" y="465.00" font-size="6.5" text-anchor="middle" fill="#2e2e2e">6</text>
<path d="M336.70 469.20L336.70 472.30" stroke="#1a1a1a" stroke-width="1.0" fill="none"/>
<path d="M334.30 472.30L415.80 472.30" stroke="#1a1a1a" stroke-width="1.1" fill="none"/>
<rect x="346.90" y="474.20" width="68.40" height="5.30" fill="#262626"/>
<rect x="407.40" y="482.80" width="7.90" height="5.60" fill="#b9b9b9"/>
<rect x="411.10" y="492.00" width="4.20" height="5.30" fill="#a8a8a8"/>
<path d="M415.30 476.40L418.60 476.40" stroke="#1a1a1a" stroke-width="0.9" fill="none"/>
<path d="M415.30 485.60L418.60 485.60" stroke="#1a1a1a" stroke-width="0.9" fill="none"/>
<path d="M415.30 494.70L418.60 494.70" stroke="#1a1a1a" stroke-width="0.9" fill="none"/>
<path d="M398.60 469.00L398.60 503.80" stroke="#d8d8d8" stroke-width="0.8" fill="none"/>
<path d="M398.60 474.20L398.60 479.50" stroke="#f2f2f2" stroke-width="0.9" fill="none"/>
<path d="M415.30 471.60L415.30 500.60" stroke="#1a1a1a" stroke-width="1.3" fill="none"/>
<text x="421.90" y="479.20" font-size="6.9" textLength="48.70" lengthAdjust="spacingAndGlyphs" fill="#2e2e2e">rRNA processing</text>
<text x="421.90" y="487.70" font-size="6.9" textLength="72.70" lengthAdjust="spacingAndGlyphs" fill="#2e2e2e">DNA replication initiation</text>
<text x="421.90" y="497.50" font-size="6.9" textLength="67.30" lengthAdjust="spacingAndGlyphs" fill="#2e2e2e">ribosomal large subunit</text>
<text x="421.90" y="504.60" font-size="6.9" textLength="30.80" lengthAdjust="spacingAndGlyphs" fill="#2e2e2e">biogenesis</text>
<circle cx="245.2" cy="376.8" r="29.8" fill="none" stroke="#d56f86" stroke-width="1.05"/>
<circle cx="226.0" cy="410.6" r="29.8" fill="none" stroke="#7ca5cc" stroke-width="1.05"/>
<circle cx="264.9" cy="410.4" r="29.8" fill="none" stroke="#555" stroke-width="1.05"/>
<path d="M213.10 355.10L244.80 379.60" stroke="#1a1a1a" stroke-width="0.9" fill="none"/>
<path d="M244.80 379.60L244.80 392.30" stroke="#1a1a1a" stroke-width="0.9" fill="none"/>
<path d="M254.3 369.1L288.2 363.2H317.1" stroke="#1a1a1a" stroke-width="0.9" fill="none"/>
<path d="M218.60 423.20L195.80 470.00" stroke="#1a1a1a" stroke-width="0.9" fill="none"/>
<path d="M278.20 422.80L289.80 447.30" stroke="#1a1a1a" stroke-width="0.9" fill="none"/>
<text x="245.40" y="373.75" font-size="7" text-anchor="middle" textLength="10.40" lengthAdjust="spacingAndGlyphs" fill="#2e2e2e">556</text>
<text x="231.00" y="394.55" font-size="7" text-anchor="middle" textLength="10.40" lengthAdjust="spacingAndGlyphs" fill="#2e2e2e">204</text>
<text x="261.20" y="394.85" font-size="7" text-anchor="middle" textLength="7.00" lengthAdjust="spacingAndGlyphs" fill="#2e2e2e">66</text>
<text x="245.60" y="404.55" font-size="7" text-anchor="middle" textLength="10.40" lengthAdjust="spacingAndGlyphs" fill="#2e2e2e">320</text>
<text x="216.50" y="421.05" font-size="7" text-anchor="middle" textLength="10.40" lengthAdjust="spacingAndGlyphs" fill="#2e2e2e">416</text>
<text x="244.40" y="421.05" font-size="7" text-anchor="middle" textLength="10.40" lengthAdjust="spacingAndGlyphs" fill="#2e2e2e">237</text>
<text x="274.70" y="421.05" font-size="7" text-anchor="middle" textLength="10.40" lengthAdjust="spacingAndGlyphs" fill="#2e2e2e">143</text>
<text x="245.30" y="342.90" font-size="6.9" text-anchor="middle" textLength="17.70" lengthAdjust="spacingAndGlyphs" fill="#2e2e2e">Day42</text>
<text x="262.50" y="349.30" font-size="6.9" textLength="86.70" lengthAdjust="spacingAndGlyphs" fill="#d4607a">High in CD34 NUP98::KDM5A</text>
<text x="205.40" y="343.50" font-size="6.9" text-anchor="end" textLength="42.40" lengthAdjust="spacingAndGlyphs" fill="#2e2e2e">Common (320)</text>
<text x="205.40" y="350.90" font-size="6.9" text-anchor="end" textLength="48.10" lengthAdjust="spacingAndGlyphs" fill="#2e2e2e">eg, <tspan font-style="italic">IRX3</tspan>, <tspan font-style="italic">MYCN</tspan>,</text>
<text x="205.40" y="358.30" font-size="6.9" text-anchor="end" textLength="48.10" lengthAdjust="spacingAndGlyphs" fill="#2e2e2e"><tspan font-style="italic">HOXB6</tspan>, <tspan font-style="italic">SPINK2</tspan>,</text>
<text x="205.40" y="365.70" font-size="6.9" text-anchor="end" textLength="50.20" lengthAdjust="spacingAndGlyphs" fill="#2e2e2e"><tspan font-style="italic">MED12L</tspan>, <tspan font-style="italic">HOXA5</tspan></text>
<text x="369.80" y="364.80" font-size="6.9" text-anchor="end" textLength="46.10" lengthAdjust="spacingAndGlyphs" fill="#2e2e2e">Uniquely high in</text>
<text x="369.80" y="372.30" font-size="6.9" text-anchor="end" textLength="62.10" lengthAdjust="spacingAndGlyphs" fill="#2e2e2e">NUP98::KDM5A (556)</text>
<text x="369.80" y="380.00" font-size="6.9" text-anchor="end" textLength="70.20" lengthAdjust="spacingAndGlyphs" fill="#2e2e2e">eg, <tspan font-style="italic">ALAS2</tspan>, <tspan font-style="italic">VWF</tspan>, <tspan font-style="italic">GFI1B</tspan>,</text>
<text x="369.80" y="387.60" font-size="6.9" text-anchor="end" textLength="71.80" lengthAdjust="spacingAndGlyphs" fill="#2e2e2e"><tspan font-style="italic">GATA1</tspan>, <tspan font-style="italic">FREM1</tspan>, <tspan font-style="italic">CXCL12</tspan></text>
<text x="299.20" y="421.10" font-size="6.9" textLength="67.80" lengthAdjust="spacingAndGlyphs" fill="#2e2e2e">High in NUP98::HOXA9</text>
<text x="193.20" y="427.90" font-size="6.9" text-anchor="end" textLength="19.50" lengthAdjust="spacingAndGlyphs" fill="#4a7aa6">High in</text>
<text x="193.20" y="435.60" font-size="6.9" text-anchor="end" textLength="40.20" lengthAdjust="spacingAndGlyphs" fill="#4a7aa6">NUP98::NSD1</text>
<text x="143.80" y="471.90" font-size="6.9" textLength="46.60" lengthAdjust="spacingAndGlyphs" fill="#2e2e2e">Uniquely high in</text>
<text x="143.80" y="479.70" font-size="6.9" textLength="57.40" lengthAdjust="spacingAndGlyphs" fill="#2e2e2e">NUP98::NSD1 (416)</text>
<text x="143.80" y="487.40" font-size="6.9" textLength="71.60" lengthAdjust="spacingAndGlyphs" fill="#2e2e2e">eg, <tspan font-style="italic">MEIOC</tspan>, <tspan font-style="italic">CD96</tspan>, <tspan font-style="italic">FLT4</tspan>,</text>
<text x="143.80" y="494.90" font-size="6.9" textLength="86.20" lengthAdjust="spacingAndGlyphs" fill="#2e2e2e"><tspan font-style="italic">HSPA5</tspan>, <tspan font-style="italic">ETV6</tspan>, <tspan font-style="italic">HOXA13</tspan>, <tspan font-style="italic">TP53</tspan></text>
<text x="319.80" y="459.80" font-size="6.9" text-anchor="end" textLength="46.10" lengthAdjust="spacingAndGlyphs" fill="#2e2e2e">Uniquely high in</text>
<text x="319.80" y="467.70" font-size="6.9" text-anchor="end" textLength="62.10" lengthAdjust="spacingAndGlyphs" fill="#2e2e2e">NUP98::HOXA9 (143)</text>
<text x="319.80" y="475.50" font-size="6.9" text-anchor="end" textLength="63.50" lengthAdjust="spacingAndGlyphs" fill="#2e2e2e">eg, <tspan font-style="italic">HOXC8</tspan>, <tspan font-style="italic">MECOM</tspan>,</text>
<text x="319.80" y="483.10" font-size="6.9" text-anchor="end" textLength="36.00" lengthAdjust="spacingAndGlyphs" fill="#2e2e2e"><tspan font-style="italic">HOPX</tspan>, <tspan font-style="italic">PBX3</tspan></text>
</svg></body></html>
